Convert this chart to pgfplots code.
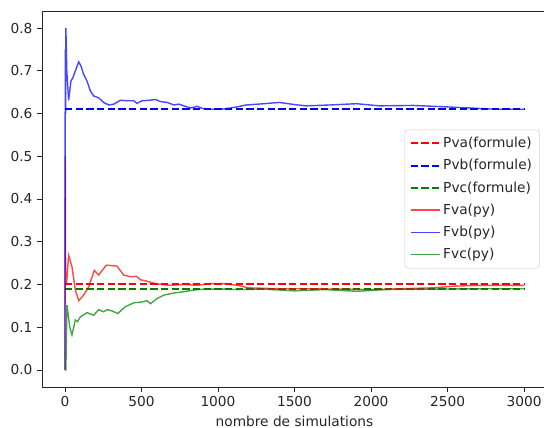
\documentclass[border=0pt]{standalone}
\usepackage{fontspec}
\setmainfont{DejaVu Sans}
\usepackage{pgfplots}
\pgfplotsset{compat=1.18}
\definecolor{mred}{rgb}{1,0,0}
\definecolor{mblue}{rgb}{0,0,1}
\definecolor{mgreen}{rgb}{0,0.5,0}
\begin{document}
\fontsize{10.3}{12.4}\selectfont
\begin{tikzpicture}
\begin{axis}[
  at={(0,0)}, anchor=south west,
  scale only axis, width=378.75pt, height=282pt,
  xmin=-150, xmax=3150, ymin=-0.04, ymax=0.84,
  xtick={0,500,1000,1500,2000,2500,3000},
  ytick={0,0.1,0.2,0.3,0.4,0.5,0.6,0.7,0.8},
  xtick pos=bottom, ytick pos=left,
  tick align=outside, major tick length=3.5pt,
  every tick/.style={black!85, line width=0.6pt},
  axis line style={black!85, line width=0.65pt},
  /pgf/number format/assume math mode=true,
  /pgf/number format/1000 sep={},
  yticklabel style={/pgf/number format/.cd, fixed, fixed zerofill, precision=1},
  tick label style={font=\fontsize{10.3}{12.4}\selectfont, text=black!85},
  xlabel={nombre de simulations},
  label style={font=\fontsize{10.3}{12.4}\selectfont, text=black!85},
  legend style={at={(rel axis cs:1,0.5)}, anchor=east, xshift=-5.5pt,
    draw=black!18, rounded corners=2pt, fill=white, fill opacity=0.8, text opacity=1,
    font=\fontsize{10.3}{12.4}\selectfont, row sep=3.3pt, inner xsep=3.5pt, inner ysep=3.5pt,
    text=black!85},
  legend cell align=left,
  legend image code/.code={\draw[#1] (0pt,0pt) -- (21.75pt,0pt);},
]
\addplot[mred, line width=1.5pt, dash pattern=on 5.6pt off 2.4pt] coordinates {(0,0.2) (3000,0.2)};
\addlegendentry{Pva(formule)}
\addplot[mblue, line width=1.5pt, dash pattern=on 5.6pt off 2.4pt] coordinates {(0,0.61) (3000,0.61)};
\addlegendentry{Pvb(formule)}
\addplot[mgreen, line width=1.5pt, dash pattern=on 5.6pt off 2.4pt] coordinates {(0,0.19) (3000,0.19)};
\addlegendentry{Pvc(formule)}
\addplot[mred, line width=1.05pt, opacity=0.72] coordinates {
(0,0) (2,0.5) (4,0.25) (6,0.2) (10,0.2) (24,0.268) (46,0.241) (68,0.187) (90,0.162) (122,0.175)
(155,0.194) (192,0.233) (220,0.222) (270,0.245) (340,0.243) (384,0.222) (428,0.218) (467,0.219)
(493,0.211) (532,0.208) (570,0.204) (624,0.2) (690,0.198) (777,0.2) (864,0.198) (952,0.202)
(1039,0.202) (1126,0.198) (1200,0.192) (1400,0.190) (1600,0.190) (1800,0.189) (2000,0.188)
(2200,0.190) (2400,0.192) (2550,0.196) (2700,0.198) (2850,0.198) (3000,0.198)};
\addlegendentry{Fva(py)}
\addplot[mblue, line width=1.05pt, opacity=0.72] coordinates {
(0,0) (2,0.75) (4,0.6) (6,0.8) (12,0.7) (24,0.631) (39,0.676) (52,0.684) (68,0.70) (90,0.721)
(105,0.711) (122,0.692) (144,0.676) (166,0.653) (188,0.641) (220,0.637) (253,0.626) (286,0.620)
(319,0.622) (362,0.631) (406,0.630) (450,0.630) (471,0.624) (504,0.630) (548,0.631) (592,0.633)
(624,0.628) (668,0.626) (712,0.620) (744,0.622) (777,0.618) (821,0.613) (864,0.617) (897,0.612)
(952,0.610) (1017,0.610) (1083,0.613) (1130,0.616) (1183,0.620) (1300,0.623) (1401,0.626)
(1500,0.621) (1576,0.618) (1729,0.620) (1904,0.623) (2056,0.618) (2273,0.619) (2469,0.616)
(2646,0.613) (2820,0.610) (3000,0.610)};
\addlegendentry{Fvb(py)}
\addplot[mgreen, line width=1.05pt, opacity=0.72] coordinates {
(0,0) (6,0) (13,0.152) (31,0.101) (46,0.082) (68,0.117) (83,0.113) (100,0.124) (144,0.134)
(188,0.128) (220,0.141) (253,0.136) (275,0.141) (308,0.138) (345,0.132) (395,0.148) (450,0.157)
(504,0.159) (537,0.162) (559,0.155) (602,0.167) (646,0.175) (712,0.180) (777,0.183) (843,0.187)
(908,0.189) (1039,0.189) (1126,0.188) (1300,0.189) (1500,0.185) (1700,0.188) (1904,0.184)
(2100,0.188) (2400,0.189) (2700,0.190) (3000,0.190)};
\addlegendentry{Fvc(py)}
\end{axis}
\pgfresetboundingbox
\path (-31.5pt,-30.75pt) rectangle (376.5pt,290.25pt);
\end{tikzpicture}
\end{document}
